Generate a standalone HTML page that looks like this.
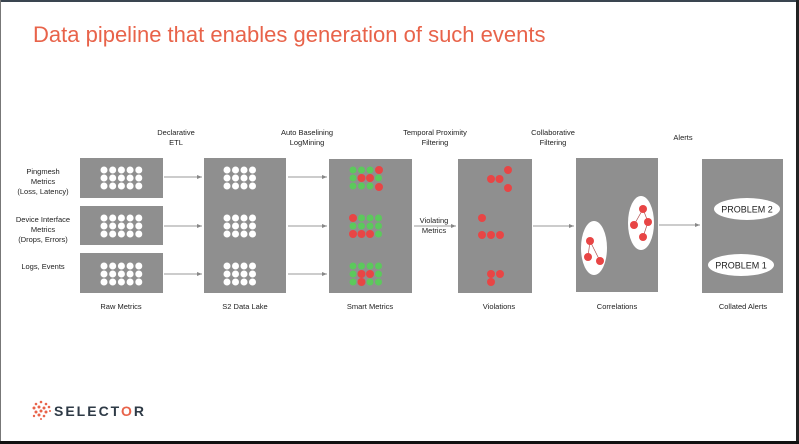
<!DOCTYPE html>
<html><head><meta charset="utf-8"><style>
html,body{margin:0;padding:0;width:799px;height:444px;overflow:hidden;background:#fff}
svg{display:block}
text{font-family:"Liberation Sans",sans-serif}
</style></head><body>
<svg width="799" height="444" viewBox="0 0 799 444" xmlns="http://www.w3.org/2000/svg">
<defs>
<marker id="ah" markerWidth="6" markerHeight="6" refX="5" refY="3" orient="auto"><path d="M0,1 L5,3 L0,5 z" fill="#888"/></marker>
</defs>
<rect x="0" y="0" width="799" height="444" fill="#fff"/>
<rect x="0" y="0" width="799" height="2" fill="#3a4550"/>
<rect x="0" y="0" width="1" height="444" fill="#777"/>
<rect x="796" y="0" width="3" height="444" fill="#222"/>
<rect x="0" y="441" width="799" height="3" fill="#111"/>
<text x="33" y="42" font-size="22" fill="#e8634a">Data pipeline that enables generation of such events</text>

<g font-size="7.5" fill="#222" text-anchor="middle">
<text x="176" y="135">Declarative</text><text x="176" y="145">ETL</text>
<text x="307" y="135">Auto Baselining</text><text x="307" y="145">LogMining</text>
<text x="435" y="135">Temporal Proximity</text><text x="435" y="145">Filtering</text>
<text x="553" y="135">Collaborative</text><text x="553" y="145">Filtering</text>
<text x="683" y="140">Alerts</text>
<text x="43" y="174">Pingmesh</text><text x="43" y="184">Metrics</text><text x="43" y="194">(Loss, Latency)</text>
<text x="43" y="222">Device Interface</text><text x="43" y="232">Metrics</text><text x="43" y="242">(Drops, Errors)</text>
<text x="43" y="269">Logs, Events</text>
<text x="121" y="309">Raw Metrics</text>
<text x="245" y="309">S2 Data Lake</text>
<text x="370" y="309">Smart Metrics</text>
<text x="499" y="309">Violations</text>
<text x="617" y="309">Correlations</text>
<text x="743" y="309">Collated Alerts</text>
<text x="434" y="223">Violating</text><text x="434" y="233">Metrics</text>
</g>

<g fill="#8f8f8f">
<rect x="80" y="158" width="83" height="40"/>
<rect x="80" y="206" width="83" height="39"/>
<rect x="80" y="253" width="83" height="40"/>
<rect x="204" y="158" width="82" height="135"/>
<rect x="329" y="159" width="83" height="134"/>
<rect x="458" y="159" width="74" height="134"/>
<rect x="576" y="158" width="82" height="134"/>
<rect x="702" y="159" width="81" height="134"/>
</g>

<g stroke="#999" stroke-width="1" marker-end="url(#ah)">
<line x1="164" y1="177" x2="202" y2="177"/>
<line x1="164" y1="226" x2="202" y2="226"/>
<line x1="164" y1="274" x2="202" y2="274"/>
<line x1="288" y1="177" x2="327" y2="177"/>
<line x1="288" y1="226" x2="327" y2="226"/>
<line x1="288" y1="274" x2="327" y2="274"/>
<line x1="414" y1="226" x2="456" y2="226"/>
<line x1="533" y1="226" x2="574" y2="226"/>
<line x1="659" y1="225" x2="700" y2="225"/>
</g>

<g fill="#fff">
<!-- raw dots -->
<g id="raw5">
<circle cx="104" cy="170" r="3.5"/><circle cx="112.7" cy="170" r="3.5"/><circle cx="121.4" cy="170" r="3.5"/><circle cx="130.1" cy="170" r="3.5"/><circle cx="138.8" cy="170" r="3.5"/>
<circle cx="104" cy="178" r="3.5"/><circle cx="112.7" cy="178" r="3.5"/><circle cx="121.4" cy="178" r="3.5"/><circle cx="130.1" cy="178" r="3.5"/><circle cx="138.8" cy="178" r="3.5"/>
<circle cx="104" cy="186" r="3.5"/><circle cx="112.7" cy="186" r="3.5"/><circle cx="121.4" cy="186" r="3.5"/><circle cx="130.1" cy="186" r="3.5"/><circle cx="138.8" cy="186" r="3.5"/>
</g>
<use href="#raw5" y="48"/>
<use href="#raw5" y="96"/>
<g id="lake4">
<circle cx="227" cy="170" r="3.5"/><circle cx="235.5" cy="170" r="3.5"/><circle cx="244" cy="170" r="3.5"/><circle cx="252.5" cy="170" r="3.5"/>
<circle cx="227" cy="178" r="3.5"/><circle cx="235.5" cy="178" r="3.5"/><circle cx="244" cy="178" r="3.5"/><circle cx="252.5" cy="178" r="3.5"/>
<circle cx="227" cy="186" r="3.5"/><circle cx="235.5" cy="186" r="3.5"/><circle cx="244" cy="186" r="3.5"/><circle cx="252.5" cy="186" r="3.5"/>
</g>
<use href="#lake4" y="48"/>
<use href="#lake4" y="96"/>
</g>

<!-- smart metrics -->
<g>
<g fill="#5cc95c">
<circle cx="353" cy="170" r="3.5"/><circle cx="361.5" cy="170" r="3.5"/><circle cx="370" cy="170" r="3.5"/>
<circle cx="353" cy="178" r="3.5"/><circle cx="378.5" cy="178" r="3.5"/>
<circle cx="353" cy="186" r="3.5"/><circle cx="361.5" cy="186" r="3.5"/><circle cx="370" cy="186" r="3.5"/>
<circle cx="361.5" cy="218" r="3.5"/><circle cx="370" cy="218" r="3.5"/><circle cx="378.5" cy="218" r="3.5"/>
<circle cx="353" cy="226" r="3.5"/><circle cx="361.5" cy="226" r="3.5"/><circle cx="370" cy="226" r="3.5"/><circle cx="378.5" cy="226" r="3.5"/>
<circle cx="378.5" cy="234" r="3.5"/>
<circle cx="353" cy="266" r="3.5"/><circle cx="361.5" cy="266" r="3.5"/><circle cx="370" cy="266" r="3.5"/><circle cx="378.5" cy="266" r="3.5"/>
<circle cx="353" cy="274" r="3.5"/><circle cx="378.5" cy="274" r="3.5"/>
<circle cx="353" cy="282" r="3.5"/><circle cx="370" cy="282" r="3.5"/><circle cx="378.5" cy="282" r="3.5"/>
</g>
<g fill="#e84545">
<circle cx="379" cy="170" r="4"/>
<circle cx="361.5" cy="178" r="4"/><circle cx="370" cy="178" r="4"/>
<circle cx="379" cy="187" r="4"/>
<circle cx="353" cy="218" r="4"/>
<circle cx="353" cy="234" r="4"/><circle cx="361.5" cy="234" r="4"/><circle cx="370" cy="234" r="4"/>
<circle cx="361.5" cy="274" r="4"/><circle cx="370" cy="274" r="4"/>
<circle cx="361.5" cy="282" r="4"/>
<!-- violations -->
<circle cx="508" cy="170" r="4"/><circle cx="491" cy="179" r="4"/><circle cx="499.5" cy="179" r="4"/><circle cx="508" cy="188" r="4"/>
<circle cx="482" cy="218" r="4"/>
<circle cx="482" cy="235" r="4"/><circle cx="491" cy="235" r="4"/><circle cx="500" cy="235" r="4"/>
<circle cx="491" cy="274" r="4"/><circle cx="500" cy="274" r="4"/><circle cx="491" cy="282" r="4"/>
</g>
</g>

<!-- correlations -->
<ellipse cx="594" cy="248" rx="13" ry="27" fill="#fff"/>
<ellipse cx="641" cy="223" rx="13" ry="27" fill="#fff"/>
<g stroke="#b05050" stroke-width="0.7">
<line x1="590" y1="241" x2="588" y2="257"/><line x1="590" y1="241" x2="600" y2="261"/>
<line x1="643" y1="209" x2="634" y2="225"/><line x1="648" y1="222" x2="643" y2="237"/><line x1="643" y1="209" x2="648" y2="222"/>
</g>
<g fill="#e84545">
<circle cx="590" cy="241" r="4"/><circle cx="588" cy="257" r="4"/><circle cx="600" cy="261" r="4"/>
<circle cx="643" cy="209" r="4"/><circle cx="634" cy="225" r="4"/><circle cx="648" cy="222" r="4"/><circle cx="643" cy="237" r="4"/>
</g>

<!-- collated -->
<ellipse cx="747" cy="209" rx="33" ry="11" fill="#fff"/>
<ellipse cx="741" cy="265" rx="33" ry="11" fill="#fff"/>
<text x="747" y="212.5" font-size="9" text-anchor="middle" fill="#222">PROBLEM 2</text>
<text x="741" y="268.5" font-size="9" text-anchor="middle" fill="#222">PROBLEM 1</text>

<!-- logo -->
<g fill="#e8634a">
<circle cx="36" cy="404" r="1.3"/><circle cx="41" cy="402" r="1.3"/><circle cx="46" cy="404" r="1.3"/>
<circle cx="34" cy="408" r="1.5"/><circle cx="39" cy="407" r="1.5"/><circle cx="44" cy="408" r="1.5"/><circle cx="49" cy="407" r="1.3"/>
<circle cx="36" cy="412" r="1.5"/><circle cx="41" cy="411" r="1.5"/><circle cx="46" cy="412" r="1.5"/><circle cx="50" cy="411" r="1"/>
<circle cx="34" cy="416" r="1.2"/><circle cx="39" cy="415" r="1.5"/><circle cx="44" cy="416" r="1.3"/>
<circle cx="41" cy="419" r="1"/>
</g>
<text x="54" y="416" font-size="14" font-weight="bold" letter-spacing="2" fill="#2e3a46">SELECT<tspan fill="#e8634a">O</tspan>R</text>
</svg>
</body></html>
